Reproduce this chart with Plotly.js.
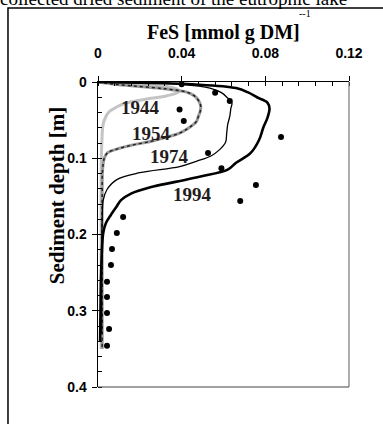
<!DOCTYPE html>
<html>
<head>
<meta charset="utf-8">
<script src="https://cdn.plot.ly/plotly-3.0.1.min.js"></script>
<style>
html,body{margin:0;padding:0;background:#fff;}
#chart{width:383px;height:424px;}
</style>
</head>
<body>
<div id="chart"></div>
<script>
// 1944 modelled profile (grey)
const depth1944 = [0, 0.003, 0.006, 0.0095, 0.013, 0.018, 0.022, 0.026, 0.030, 0.035, 0.040, 0.050, 0.060, 0.075, 0.100, 0.150, 0.250, 0.350];
const fes1944   = [0, 0.020, 0.033, 0.038, 0.0385, 0.033, 0.024, 0.016, 0.011, 0.0075, 0.005, 0.003, 0.0022, 0.0019, 0.0016, 0.0015, 0.0015, 0.0015];
// 1954 modelled profile (dotted)
const depth1954 = [0, 0.003, 0.006, 0.009, 0.013, 0.018, 0.024, 0.030, 0.037, 0.045, 0.052, 0.060, 0.067, 0.073, 0.078, 0.083, 0.088, 0.093, 0.100, 0.115, 0.150, 0.250, 0.350];
const fes1954   = [0, 0.008, 0.020, 0.032, 0.042, 0.046, 0.048, 0.049, 0.049, 0.048, 0.047, 0.0435, 0.039, 0.032, 0.025, 0.016, 0.009, 0.0045, 0.003, 0.0022, 0.002, 0.002, 0.002];
// 1974 modelled profile (thin black)
const depth1974 = [0, 0.001, 0.003, 0.008, 0.014, 0.021, 0.027, 0.035, 0.045, 0.056, 0.068, 0.079, 0.089, 0.097, 0.104, 0.111, 0.119, 0.128, 0.141, 0.155, 0.180, 0.250, 0.330];
const fes1974   = [0, 0.020, 0.040, 0.0535, 0.059, 0.062, 0.064, 0.0635, 0.063, 0.062, 0.0615, 0.061, 0.058, 0.054, 0.047, 0.039, 0.020, 0.009, 0.0043, 0.0025, 0.002, 0.0018, 0.0018];
// 1994 modelled profile (thick black)
const depth1994 = [0, 0.001, 0.003, 0.008, 0.014, 0.020, 0.027, 0.035, 0.047, 0.060, 0.076, 0.093, 0.106, 0.115, 0.124, 0.131, 0.138, 0.146, 0.155, 0.165, 0.175, 0.185, 0.198, 0.250, 0.300, 0.340];
const fes1994   = [0, 0.020, 0.045, 0.066, 0.072, 0.076, 0.081, 0.082, 0.081, 0.079, 0.077, 0.073, 0.066, 0.062, 0.049, 0.037, 0.025, 0.016, 0.011, 0.0085, 0.006, 0.0038, 0.0025, 0.0015, 0.0012, 0.001];
// measured points
const depthObs = [0.003, 0.014, 0.025, 0.036, 0.051, 0.072, 0.093, 0.113, 0.135, 0.156, 0.177, 0.198, 0.219, 0.240, 0.262, 0.282, 0.303, 0.324, 0.346];
const fesObs   = [0.040, 0.056, 0.063, 0.039, 0.041, 0.0875, 0.0526, 0.059, 0.0755, 0.068, 0.012, 0.009, 0.0067, 0.0062, 0.0043, 0.0043, 0.0043, 0.0053, 0.0043];
// curve labels
const labelText  = ["1944", "1954", "1974", "1994"];
const labelFes   = [0.0201, 0.0258, 0.0340, 0.0450];
const labelDepth = [0.034, 0.068, 0.098, 0.148];

const xTickVals = [0, 0.04, 0.08, 0.12];
const xTickText = ["0", "0.04", "0.08", "0.12"];
const yTickVals = [0, 0.1, 0.2, 0.3, 0.4];
const yTickText = ["0", "0.1", "0.2", "0.3", "0.4"];

const serif = "Liberation Serif, Times New Roman, serif";
const sans = "Liberation Sans, Arial, sans-serif";

const traces = [
  {x: fes1944, y: depth1944, mode: "lines", line: {color: "#c4c4c4", width: 3, shape: "spline"}, hoverinfo: "skip"},
  {x: fes1954, y: depth1954, mode: "lines", line: {color: "#9a9a9a", width: 3, shape: "spline"}, hoverinfo: "skip"},
  {x: fes1954, y: depth1954, mode: "lines", line: {color: "#222", width: 1.5, dash: "dot", shape: "spline"}, hoverinfo: "skip"},
  {x: fes1974, y: depth1974, mode: "lines", line: {color: "#000", width: 1.3, shape: "spline"}, hoverinfo: "skip"},
  {x: fes1994, y: depth1994, mode: "lines", line: {color: "#000", width: 2.6, shape: "spline"}, hoverinfo: "skip"},
  {x: fesObs, y: depthObs, mode: "markers", marker: {color: "#000", size: 6}, hoverinfo: "skip"}
];

const annotations = labelText.map((t, i) => ({
  text: t, x: labelFes[i], y: labelDepth[i], xref: "x", yref: "y",
  showarrow: false, xanchor: "center", yanchor: "middle",
  font: {family: serif, size: 19, color: "#241c1c", weight: "bold"}
}));
annotations.push(
  {text: "collected dried sediment of the eutrophic lake", xref: "paper", yref: "paper",
   x: -0.398, y: 1.275, xanchor: "left", yanchor: "middle", showarrow: false,
   font: {family: serif, size: 19, color: "#000"}},
  {text: "FeS [mmol g DM]", xref: "paper", yref: "paper", x: 0.5, y: 1.162,
   xanchor: "center", yanchor: "middle", showarrow: false,
   font: {family: serif, size: 20, color: "#000", weight: "bold"}},
  {text: "--1", xref: "paper", yref: "paper", x: 0.825, y: 1.226,
   xanchor: "center", yanchor: "middle", showarrow: false,
   font: {family: serif, size: 10, color: "#000"}},
  {text: "Sediment depth [m]", xref: "paper", yref: "paper", x: -0.163, y: 0.626,
   xanchor: "center", yanchor: "middle", textangle: -90, showarrow: false,
   font: {family: serif, size: 21, color: "#000", weight: "bold"}}
);

const layout = {
  width: 383, height: 424,
  margin: {l: 98, r: 34, t: 82, b: 37, pad: 0},
  paper_bgcolor: "#fff", plot_bgcolor: "#fff",
  showlegend: false,
  xaxis: {
    side: "top", range: [0, 0.12], tickmode: "array", tickvals: xTickVals, ticktext: xTickText,
    showline: true, linecolor: "#000", linewidth: 1.5, showgrid: false, zeroline: false,
    ticks: "outside", ticklen: 5, tickcolor: "#000", tickwidth: 1,
    minor: {tickmode: "linear", tick0: 0, dtick: 0.008, ticks: "inside", ticklen: 4, tickcolor: "#000", showgrid: false},
    tickfont: {family: sans, size: 14, color: "#000", weight: "bold"},
    ticklabelstandoff: 12,
    title: {text: ""}
  },
  yaxis: {
    range: [0.4, 0], tickmode: "array", tickvals: yTickVals, ticktext: yTickText,
    showline: true, linecolor: "#000", linewidth: 1.5, showgrid: false, zeroline: false,
    ticks: "outside", ticklen: 5, tickcolor: "#000", tickwidth: 1,
    minor: {tickmode: "linear", tick0: 0, dtick: 0.02, ticks: "inside", ticklen: 4, tickcolor: "#000", showgrid: false},
    tickfont: {family: sans, size: 14, color: "#000", weight: "bold"},
    ticklabelstandoff: 2,
    title: {text: ""}
  },
  shapes: [
    {type: "line", xref: "paper", yref: "paper", x0: 1, x1: 1, y0: 0, y1: 1, line: {color: "#777", width: 1.2}},
    {type: "line", xref: "paper", yref: "paper", x0: 0, x1: 1, y0: 0, y1: 0, line: {color: "#444", width: 1.2}},
    {type: "rect", xref: "paper", yref: "paper", x0: -0.3586, x1: 1.2, y0: 1.2426, y1: -0.2, line: {color: "#000", width: 1.5}}
  ],
  annotations: annotations
};

Plotly.newPlot("chart", traces, layout, {staticPlot: true, displayModeBar: false});
</script>
</body>
</html>
